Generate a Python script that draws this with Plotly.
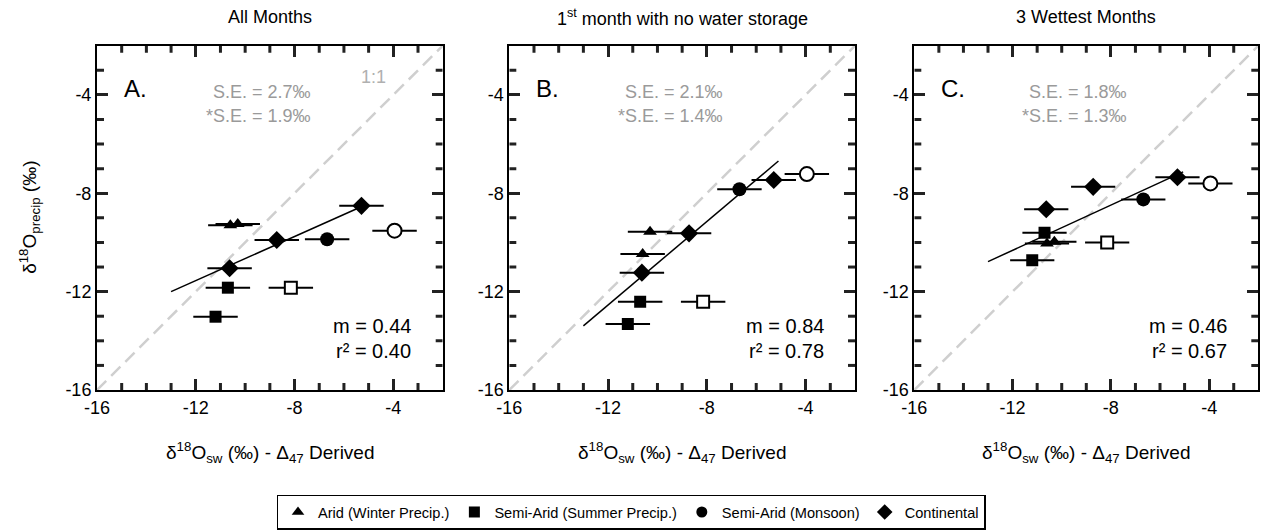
import plotly.graph_objects as go

FONT = "Arial, 'Liberation Sans', sans-serif"

# ---------------- data ----------------
panel_titles = ["All Months", "1<sup>st</sup> month with no water storage", "3 Wettest Months"]
panel_letters = ["A.", "B.", "C."]
se_text = [("S.E. = 2.7‰", "*S.E. = 1.9‰"), ("S.E. = 2.1‰", "*S.E. = 1.4‰"), ("S.E. = 1.8‰", "*S.E. = 1.3‰")]
fit_text = [("m = 0.44", "r² = 0.40"), ("m = 0.84", "r² = 0.78"), ("m = 0.46", "r² = 0.67")]

err_x = 0.9  # half-width of the horizontal error bars (‰)

# x (Δ47-derived δ18Osw) is the same in every panel
arid_x = [-10.6, -10.3]
semi_sum_x = [-10.7, -11.2]
semi_sum_open_x = [-8.15]
monsoon_x = [-6.68]
monsoon_open_x = [-3.95]
cont_x = [-10.63, -8.72, -5.29]

# y (δ18O precip) per panel: A, B, C
arid_y = [[-9.30, -9.25], [-10.47, -9.57], [-10.04, -9.97]]
semi_sum_y = [[-11.84, -13.02], [-12.41, -13.32], [-9.61, -10.72]]
semi_sum_open_y = [[-11.84], [-12.41], [-10.00]]
monsoon_y = [[-9.87], [-7.84], [-8.25]]
monsoon_open_y = [[-9.52], [-7.22], [-7.60]]
cont_y = [[-11.05, -9.90, -8.51], [-11.23, -9.63, -7.46], [-8.65, -7.74, -7.35]]

# regression lines (end points) per panel
fit_x = [[-13.0, -5.3], [-13.0, -5.1], [-13.0, -5.06]]
fit_y = [[-12.0, -8.55], [-13.39, -6.69], [-10.78, -7.13]]

one_to_one = [-16, -2]

tick_vals = [-16, -12, -8, -4]
tick_text = ["-16", "-12", "-8", "-4"]
minor_tick_vals = [-15, -14, -13, -11, -10, -9, -7, -6, -5, -3]
axis_range = [-16, -2]

legend_names = ["Arid (Winter Precip.)", "Semi-Arid (Summer Precip.)", "Semi-Arid (Monsoon)", "Continental"]
legend_symbols = ["triangle-up", "square", "circle", "diamond"]

# ---------------- layout geometry ----------------
W, H = 1262, 531
x_px = [(97, 442.7), (509.3, 855), (914.3, 1258.3)]
y_px = (45.7, 390)
x_domains = [(a / W, b / W) for a, b in x_px]
y_domain = (1 - y_px[1] / H, 1 - y_px[0] / H)
TICK_COLOR = "#222222"
MINOR_LEN = 7

fig = go.Figure()


def err(n):
    return dict(type="data", array=[err_x] * n, color="black", thickness=2, width=0)


for i in range(3):
    xa = "x" if i == 0 else f"x{i + 1}"
    ya = "y" if i == 0 else f"y{i + 1}"
    fig.add_trace(go.Scatter(x=one_to_one, y=one_to_one, mode="lines", xaxis=xa, yaxis=ya,
                             line=dict(color="#cfcfcf", width=2.5, dash="13px,7px"),
                             showlegend=False, hoverinfo="skip"))
    fig.add_trace(go.Scatter(x=fit_x[i], y=fit_y[i], mode="lines", xaxis=xa, yaxis=ya,
                             line=dict(color="black", width=1.5), showlegend=False, hoverinfo="skip"))
    groups = [
        (semi_sum_x, semi_sum_y[i], "square", 12, "black"),
        (semi_sum_open_x, semi_sum_open_y[i], "square", 12, "white"),
        (monsoon_x, monsoon_y[i], "circle", 14, "black"),
        (monsoon_open_x, monsoon_open_y[i], "circle", 14, "white"),
        (cont_x, cont_y[i], "diamond", 14, "black"),
        (arid_x, arid_y[i], "triangle-up", 12, "black"),
    ]
    for gx, gy, sym, sz, fill in groups:
        fig.add_trace(go.Scatter(
            x=gx, y=gy, mode="markers", xaxis=xa, yaxis=ya,
            marker=dict(symbol=sym, size=sz, color=fill,
                        line=dict(color="black", width=2 if fill == "white" else 0)),
            error_x=err(len(gx)), showlegend=False))

    # minor tick marks (axis decoration from the minor tick array), all four sides
    ux = (axis_range[1] - axis_range[0]) / (x_px[i][1] - x_px[i][0])
    uy = (axis_range[1] - axis_range[0]) / (y_px[1] - y_px[0])
    tx, ty = [], []
    for v in minor_tick_vals:
        tx += [v, v, None, v, v, None]
        ty += [axis_range[0], axis_range[0] + MINOR_LEN * uy, None,
               axis_range[1], axis_range[1] - MINOR_LEN * uy, None]
        tx += [axis_range[0], axis_range[0] + MINOR_LEN * ux, None,
               axis_range[1], axis_range[1] - MINOR_LEN * ux, None]
        ty += [v, v, None, v, v, None]
    fig.add_trace(go.Scatter(x=tx, y=ty, mode="lines", xaxis=xa, yaxis=ya,
                             line=dict(color=TICK_COLOR, width=3), showlegend=False, hoverinfo="skip"))

# legend-only traces
for name, sym in zip(legend_names, legend_symbols):
    fig.add_trace(go.Scatter(x=[None], y=[None], mode="markers", name=name,
                             marker=dict(symbol=sym, size=11 if sym != "diamond" else 12, color="black"),
                             showlegend=True))

axis_common = dict(
    range=axis_range, showline=True, linecolor="black", linewidth=2, mirror="allticks",
    ticks="inside", ticklen=11, tickwidth=3, tickcolor=TICK_COLOR,
    tickmode="array", tickvals=tick_vals, ticktext=tick_text,
    showgrid=False, zeroline=False, automargin=False,
    tickfont=dict(family=FONT, size=18, color="black"),
)

layout = dict(
    width=W, height=H, margin=dict(l=0, r=0, t=0, b=0),
    paper_bgcolor="white", plot_bgcolor="white",
    font=dict(family=FONT, color="black"),
    showlegend=True,
    legend=dict(orientation="h", x=0.5, xanchor="center", y=1 - 512 / H, yanchor="middle",
                bordercolor="black", borderwidth=1.5, font=dict(family=FONT, size=14.6, color="black"),
                itemwidth=30, bgcolor="white"),
)
for i in range(3):
    k = "" if i == 0 else str(i + 1)
    layout[f"xaxis{k}"] = dict(axis_common, domain=list(x_domains[i]), anchor=f"y{k}")
    layout[f"yaxis{k}"] = dict(axis_common, domain=list(y_domain), anchor=f"x{k}")
fig.update_layout(**layout)

ann = []
for i in range(3):
    k = "" if i == 0 else str(i + 1)
    xd, yd = f"x{k} domain", f"y{k} domain"
    cx = (x_domains[i][0] + x_domains[i][1]) / 2
    ann.append(dict(text=panel_titles[i], xref="paper", yref="paper", x=cx, y=1 - 17 / H,
                    xanchor="center", yanchor="middle", showarrow=False,
                    font=dict(family=FONT, size=18, color="black")))
    ann.append(dict(text="δ<sup>18</sup>O<sub>sw</sub> (‰) - Δ<sub>47</sub> Derived", xref="paper", yref="paper",
                    x=cx, y=1 - 452 / H, xanchor="center", yanchor="middle", showarrow=False,
                    font=dict(family=FONT, size=19, color="black")))
    ann.append(dict(text=panel_letters[i], xref=xd, yref=yd, x=0.072, y=0.877, xanchor="left",
                    yanchor="middle", showarrow=False, font=dict(family=FONT, size=24, color="black")))
    ann.append(dict(text=se_text[i][0], xref=xd, yref=yd, x=0.625, y=0.866, xanchor="right",
                    yanchor="middle", showarrow=False, font=dict(family=FONT, size=18, color="#9a9a9a")))
    ann.append(dict(text=se_text[i][1], xref=xd, yref=yd, x=0.625, y=0.797, xanchor="right",
                    yanchor="middle", showarrow=False, font=dict(family=FONT, size=18, color="#9a9a9a")))
    ann.append(dict(text=fit_text[i][0], xref=xd, yref=yd, x=0.915, y=0.186, xanchor="right",
                    yanchor="middle", showarrow=False, font=dict(family=FONT, size=20, color="black")))
    ann.append(dict(text=fit_text[i][1], xref=xd, yref=yd, x=0.915, y=0.113, xanchor="right",
                    yanchor="middle", showarrow=False, font=dict(family=FONT, size=20, color="black")))

ann.append(dict(text="1:1", xref="x domain", yref="y domain", x=0.842, y=0.909, xanchor="right",
                yanchor="middle", showarrow=False, font=dict(family=FONT, size=18, color="#b0b0b0")))
ann.append(dict(text="δ<sup>18</sup>O<sub>precip</sub> (‰)", xref="paper", yref="paper", x=30 / W,
                y=(y_domain[0] + y_domain[1]) / 2, xanchor="center", yanchor="middle", textangle=-90,
                showarrow=False, font=dict(family=FONT, size=19, color="black")))
fig.update_layout(annotations=ann)

fig.write_html("out.html")
